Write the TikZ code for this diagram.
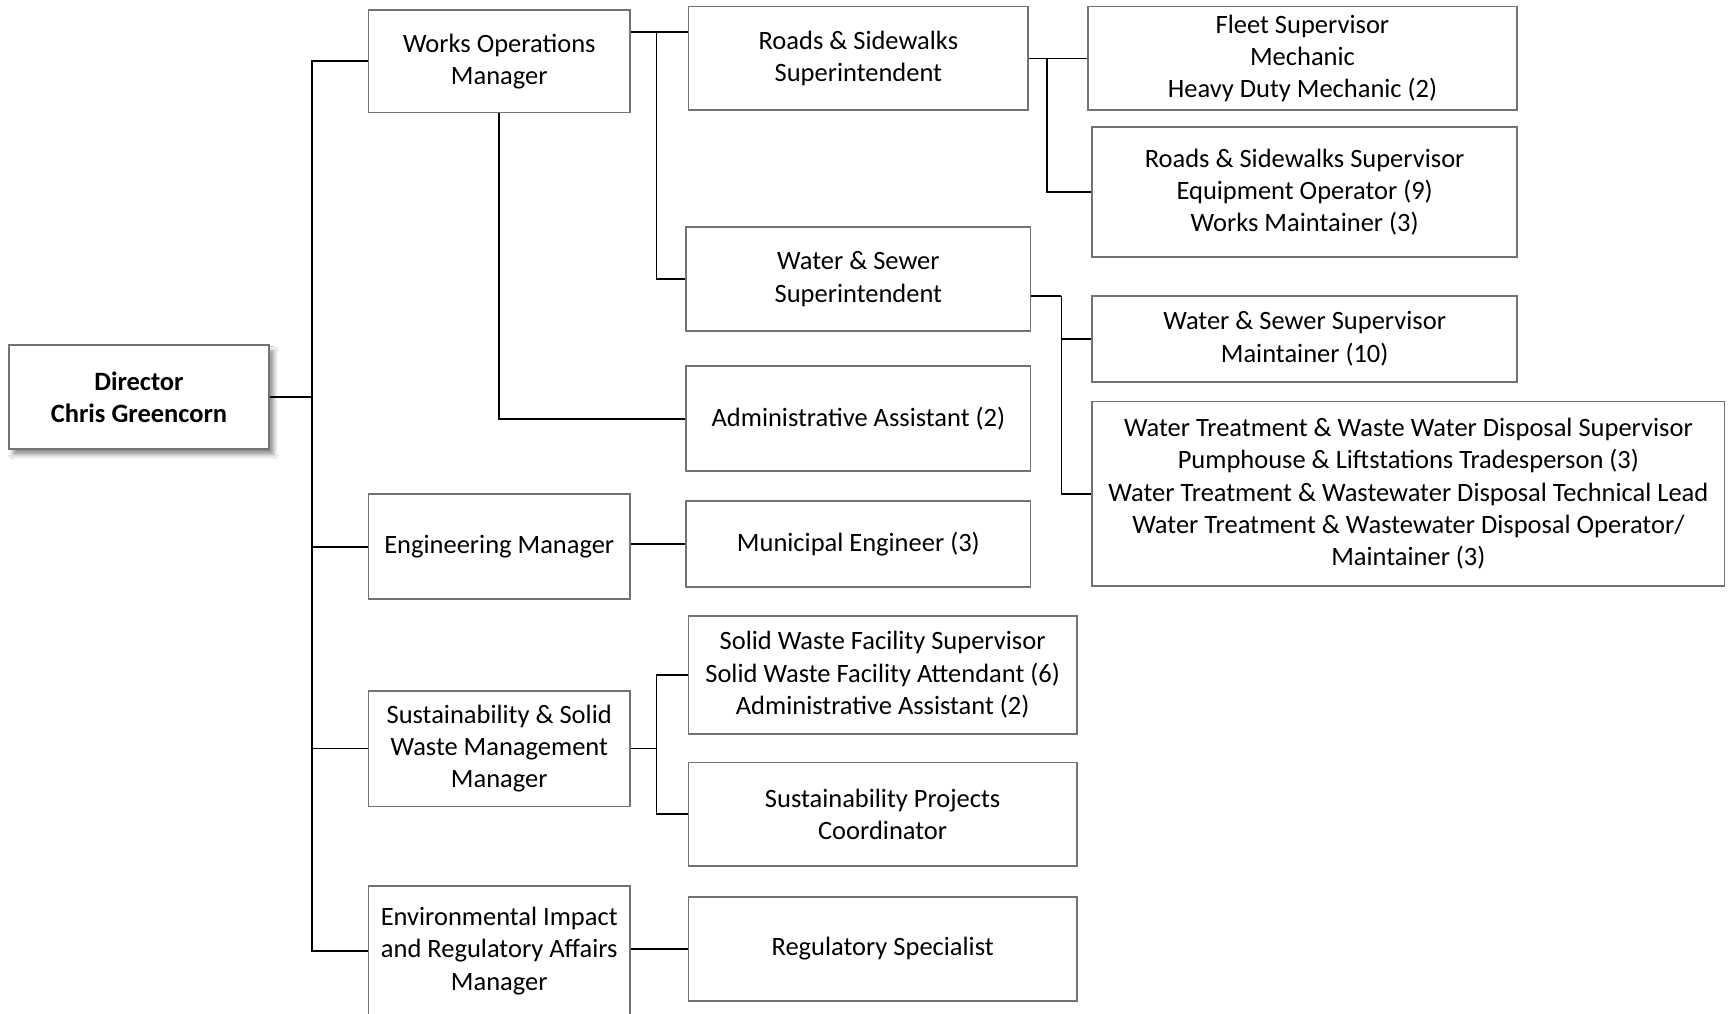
\documentclass[tikz,border=0pt]{standalone}
\usepackage{fontspec}
\setmainfont{Carlito}
\usetikzlibrary{shadows.blur}
\begin{document}
\begin{tikzpicture}[x=0.5pt,y=-0.5pt,
  box/.style={draw=black!55, line width=0.8pt, fill=white, align=center, inner sep=0pt,
    font=\fontsize{12}{14.6}\selectfont},
  link/.style={draw=black, line width=0.75pt},
  boss/.style={box, font=\fontsize{12}{14.6}\selectfont\bfseries,
    blur shadow={shadow xshift=2pt, shadow yshift=-2.5pt, shadow blur steps=6, shadow opacity=45}}]
\useasboundingbox (0,0) rectangle (1568,919);
\clip (0,0) rectangle (1568,919);
\fill[white] (0,0) rectangle (1568,919);

\node[boss, minimum width=118pt, minimum height=47pt] (dir) at (126,360) {Director\\Chris Greencorn};

\node[box, minimum width=118.5pt, minimum height=46.5pt] (wom) at (452.5,55.5) {Works Operations\\Manager};
\node[box, minimum width=118.5pt, minimum height=47.5pt] (eng) at (452.5,495.5) {Engineering Manager};
\node[box, minimum width=118.5pt, minimum height=52.5pt] (swm) at (452.5,678.5) {Sustainability \& Solid\\Waste Management\\Manager};
\node[box, minimum width=118.5pt, minimum height=59pt] (env) at (452.5,862) {Environmental Impact\\and Regulatory Affairs\\Manager};

\node[box, minimum width=154pt, minimum height=47pt] (rss) at (778,53) {Roads \& Sidewalks\\Superintendent};
\node[box, minimum width=156pt, minimum height=47pt] (wss) at (778,253) {Water \& Sewer\\Superintendent};
\node[box, minimum width=156pt, minimum height=47.5pt] (adm) at (778,379.5) {Administrative Assistant (2)};
\node[box, minimum width=156pt, minimum height=39pt] (mun) at (778,493) {Municipal Engineer (3)};
\node[box, minimum width=176pt, minimum height=53.5pt] (swf) at (800,611.5) {Solid Waste Facility Supervisor\\Solid Waste Facility Attendant (6)\\Administrative Assistant (2)};
\node[box, minimum width=176pt, minimum height=47pt] (spc) at (800,738) {Sustainability Projects\\Coordinator};
\node[box, minimum width=176pt, minimum height=47pt] (reg) at (800,860) {Regulatory Specialist};

\node[box, minimum width=194.5pt, minimum height=47pt] (flt) at (1180.5,53) {Fleet Supervisor\\Mechanic\\Heavy Duty Mechanic (2)};
\node[box, minimum width=192.5pt, minimum height=59pt] (rsv) at (1182.5,174) {Roads \& Sidewalks Supervisor\\Equipment Operator (9)\\Works Maintainer (3)};
\node[box, minimum width=192.5pt, minimum height=39pt] (wsv) at (1182.5,307) {Water \& Sewer Supervisor\\Maintainer (10)};
\node[box, minimum width=286.5pt, minimum height=83.5pt] (wtp) at (1276.5,447.5) {Water Treatment \& Waste Water Disposal Supervisor\\Pumphouse \& Liftstations Tradesperson (3)\\Water Treatment \& Wastewater Disposal Technical Lead\\Water Treatment \& Wastewater Disposal Operator/\\Maintainer (3)};

% trunk from director
\coordinate (tr) at (283,360);
\draw[link] (dir.east) -- (tr);
\draw[link] (wom.west) -| (tr) |- (env.west);
\draw[link] (tr |- eng.west) -- (eng.west);
\draw[link] (tr |- swm.west) -- (swm.west);

% works operations branch
\coordinate (wb) at (595,29);
\draw[link] (wom.east |- wb) -- (rss.west |- wb);
\draw[link] (wb) |- (wss.west);
\draw[link] (wom.south) |- (adm.west);

% engineering
\draw[link] (eng.east |- mun.west) -- (mun.west);

% sustainability
\coordinate (sb) at (595,678.5);
\draw[link] (swm.east) -- (sb);
\draw[link] (swf.west) -| (sb) |- (spc.west);

% environmental
\draw[link] (env.east |- reg.west) -- (reg.west);

% roads superintendent
\coordinate (rb) at (949,53);
\draw[link] (rss.east) -- (flt.west);
\draw[link] (rb) |- (rsv.west);

% water & sewer superintendent
\coordinate (wsb) at (962,268);
\draw[link] (wss.east |- wsb) -- (wsb);
\draw[link] (wsb) |- (wsv.west);
\draw[link] (wsb) |- (wtp.west);
\end{tikzpicture}
\end{document}
